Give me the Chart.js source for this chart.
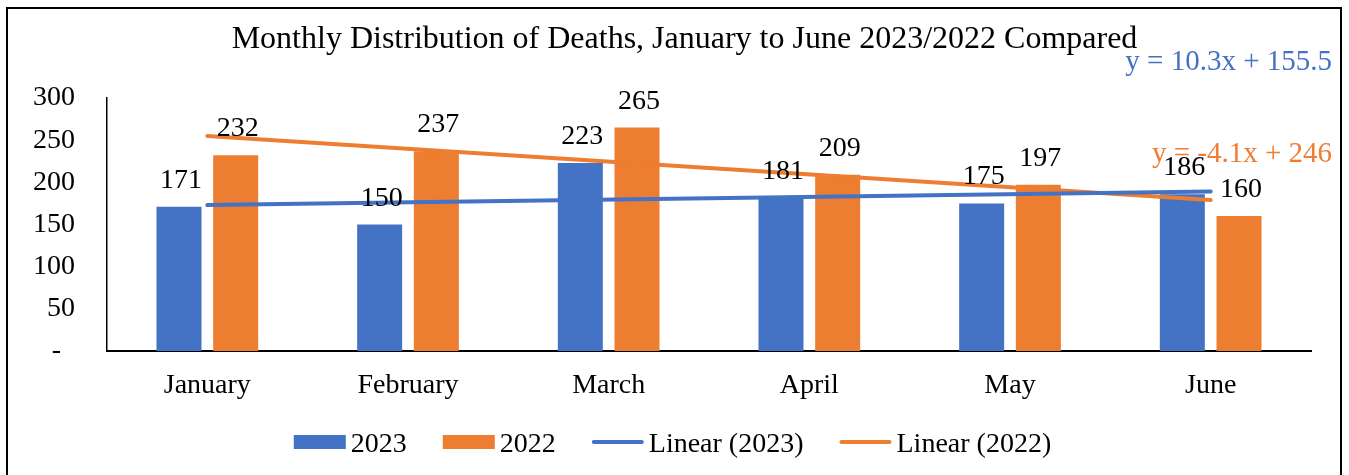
<!DOCTYPE html>
<html>
<head>
<meta charset="utf-8">
<script src="https://cdn.jsdelivr.net/npm/chart.js@4.4.1/dist/chart.umd.min.js"></script>
<style>
  html, body { margin: 0; padding: 0; background: #fff; overflow: hidden; }
  #wrap { position: relative; width: 1349px; height: 475px; }
  #frame { position: absolute; left: 6px; top: 7px; width: 1336px; height: 600px; border: 2px solid #000; box-sizing: border-box; }
  #chart { position: absolute; left: 0; top: 0; }
</style>
</head>
<body>
<div id="wrap">
  <div id="frame"></div>
  <canvas id="chart" width="1349" height="475"></canvas>
</div>
<script>
// ---- data ----
const chartTitle = 'Monthly Distribution of Deaths, January to June 2023/2022 Compared';
const months = ['January', 'February', 'March', 'April', 'May', 'June'];
const deaths2023 = [171, 150, 223, 181, 175, 186];
const deaths2022 = [232, 237, 265, 209, 197, 160];
// trendline ends (straight line between them)
const trend2023 = [173, null, null, null, null, 189];
const trend2022 = [255, null, null, null, null, 179];
const eq2023 = 'y = 10.3x + 155.5';
const eq2022 = 'y = -4.1x + 246';
const yTicks = [0, 50, 100, 150, 200, 250, 300];

const BLUE = '#4472C4';
const ORANGE = '#ED7D31';
const FONT = "'Liberation Serif', 'Times New Roman', serif";

// title, values above bars, trendline equations
const textLayer = {
  id: 'textLayer',
  afterDatasetsDraw(chart) {
    const ctx = chart.ctx;
    ctx.save();
    ctx.textBaseline = 'alphabetic';
    ctx.fillStyle = '#000';
    ctx.textAlign = 'center';
    ctx.font = '32px ' + FONT;
    ctx.fillText(chartTitle, 684.5, 48);

    ctx.font = '28px ' + FONT;
    chart.data.datasets.forEach((ds, i) => {
      if (ds.type !== 'bar') return;
      chart.getDatasetMeta(i).data.forEach((bar, j) => {
        ctx.fillText(String(ds.data[j]), bar.x + 2, bar.y - 19);
      });
    });
    ctx.font = '29px ' + FONT;
    ctx.textAlign = 'right';
    ctx.fillStyle = BLUE;
    ctx.fillText(eq2023, 1332, 70);
    ctx.fillStyle = ORANGE;
    ctx.fillText(eq2022, 1332, 162);
    ctx.restore();
  }
};

// legend drawn in the Excel style (wide swatches, tight text gap)
const excelLegend = {
  id: 'excelLegend',
  afterDraw(chart) {
    const ctx = chart.ctx;
    ctx.save();
    ctx.font = '28px ' + FONT;
    const items = chart.data.datasets.map(ds => ({
      text: ds.label, type: ds.type, color: ds.borderColor || ds.backgroundColor
    }));
    const sw = 52, gap = 5, between = 36;
    const widths = items.map(it => sw + gap + ctx.measureText(it.text).width);
    const total = widths.reduce((a, b) => a + b, 0) + between * (items.length - 1);
    let x = chart.width / 2 - total / 2 - 2;
    const cy = 442;
    items.forEach((it, i) => {
      if (it.type === 'bar') {
        ctx.fillStyle = it.color;
        ctx.fillRect(x, cy - 7, sw, 14);
      } else {
        ctx.strokeStyle = it.color;
        ctx.lineWidth = 4;
        ctx.lineCap = 'round';
        ctx.beginPath();
        ctx.moveTo(x + 2, cy);
        ctx.lineTo(x + sw - 2, cy);
        ctx.stroke();
      }
      ctx.fillStyle = '#000';
      ctx.textAlign = 'left';
      ctx.fillText(it.text, x + sw + gap, 452);
      x += widths[i] + between;
    });
    ctx.restore();
  }
};

new Chart(document.getElementById('chart'), {
  data: {
    labels: months,
    datasets: [
      { type: 'bar', label: '2023', data: deaths2023, backgroundColor: BLUE, order: 2,
        categoryPercentage: 0.565, barPercentage: 0.794 },
      { type: 'bar', label: '2022', data: deaths2022, backgroundColor: ORANGE, order: 2,
        categoryPercentage: 0.565, barPercentage: 0.794 },
      { type: 'line', label: 'Linear (2023)', data: trend2023, borderColor: BLUE, borderWidth: 4,
        pointRadius: 0, spanGaps: true, order: 1, borderCapStyle: 'round' },
      { type: 'line', label: 'Linear (2022)', data: trend2022, borderColor: ORANGE, borderWidth: 4,
        pointRadius: 0, spanGaps: true, order: 1, borderCapStyle: 'round' }
    ]
  },
  options: {
    responsive: false,
    animation: false,
    layout: { padding: { left: 0, right: 38, top: 98, bottom: 0 } },
    plugins: {
      legend: { display: false },
      tooltip: { enabled: false },
      title: { display: false }
    },
    scales: {
      x: {
        grid: { display: false, drawTicks: false },
        border: { display: true, color: '#000', width: 2 },
        ticks: { color: '#000', font: { family: FONT, size: 28 }, padding: 18, maxRotation: 0 },
        afterFit: s => { s.height = 124; }
      },
      y: {
        min: yTicks[0],
        max: yTicks[yTicks.length - 1],
        afterBuildTicks: s => { s.ticks = yTicks.map(v => ({ value: v })); },
        grid: { display: false, drawTicks: false },
        border: { display: true, color: '#000', width: 1.5 },
        ticks: {
          color: '#000', font: { family: FONT, size: 28 }, padding: 32,
          callback: v => v === 0 ? '-  ' : String(v)
        },
        afterFit: s => { s.width = 107; }
      }
    }
  },
  plugins: [textLayer, excelLegend]
});
</script>
</body>
</html>
